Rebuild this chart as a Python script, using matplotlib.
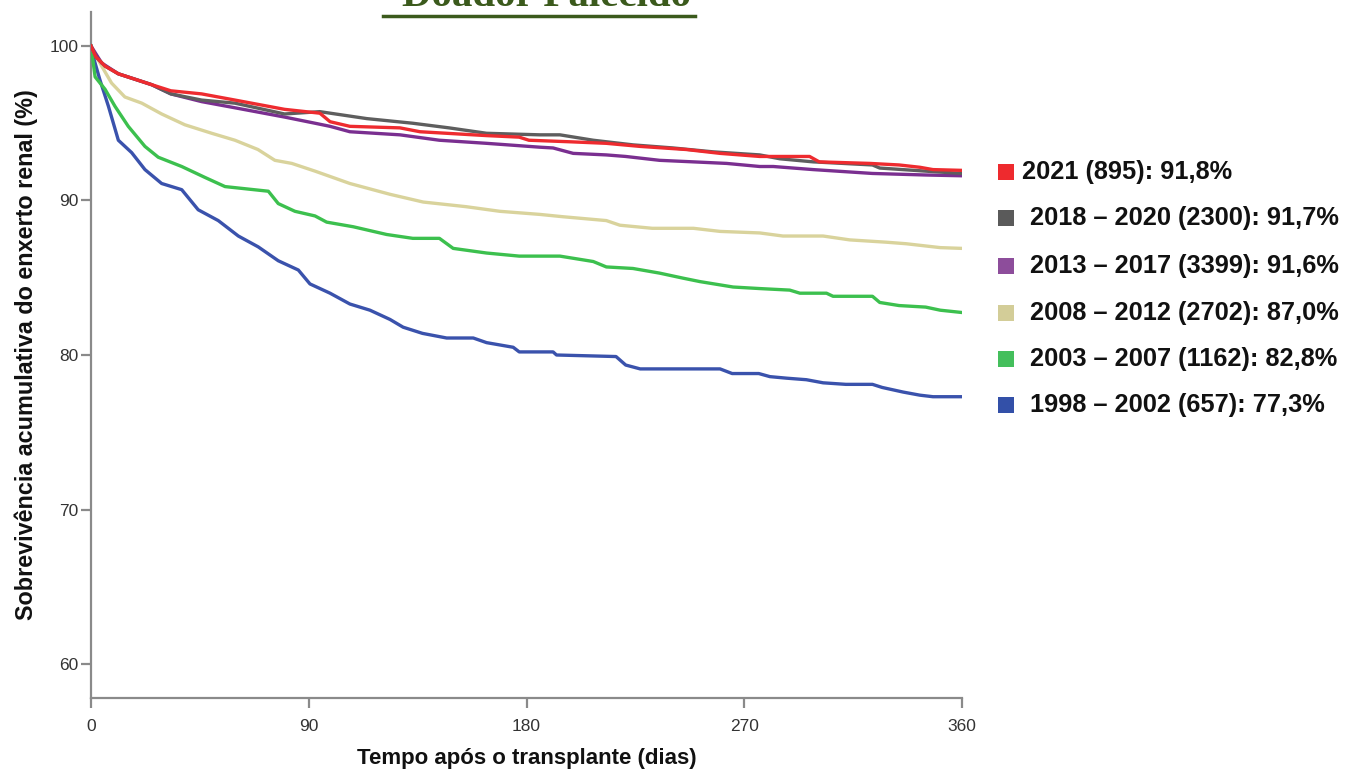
import matplotlib
matplotlib.use("Agg")
import matplotlib.pyplot as plt
from matplotlib.lines import Line2D

# ---------------- data ----------------
labels = ["2021 (895): 91,8%", "2018 – 2020 (2300): 91,7%", "2013 – 2017 (3399): 91,6%",
          "2008 – 2012 (2702): 87,0%", "2003 – 2007 (1162): 82,8%", "1998 – 2002 (657): 77,3%"]
line_colors = ["#ee2b2f", "#5e5e5e", "#7a2f90", "#d9d39c", "#3cc04e", "#3a52ac"]
legend_colors = ["#ee2a2e", "#5a5a5a", "#8d4d9b", "#d3cd98", "#44bf5c", "#3350a8"]

t_2021 = [0, 2, 5.8, 11.3, 25, 33, 45.7, 59.5, 80, 94.6, 98.8, 107, 127.7, 136, 163.5, 177, 181,
          198, 213, 227, 246, 260, 276.4, 297, 301, 322, 334, 342.6, 348, 360]
s_2021 = [100, 99.3, 98.7, 98.2, 97.5, 97.1, 96.9, 96.5, 95.9, 95.65, 95.1, 94.8, 94.7, 94.45, 94.2,
          94.1, 93.9, 93.8, 93.7, 93.5, 93.3, 93.05, 92.85, 92.85, 92.5, 92.4, 92.3, 92.15, 92.0, 91.95]

t_2018 = [0, 2, 5.8, 11.3, 25, 33, 45.7, 59.5, 80, 94.6, 114, 133, 148, 163.5, 185.5, 193.8, 207.6,
          224, 240.6, 257, 276.4, 284.7, 298.5, 323, 326, 345, 360]
s_2018 = [100, 99.3, 98.7, 98.2, 97.5, 96.9, 96.5, 96.3, 95.6, 95.75, 95.3, 95.0, 94.7, 94.35, 94.25,
          94.25, 93.9, 93.6, 93.4, 93.15, 92.95, 92.7, 92.5, 92.3, 92.1, 91.9, 91.75]

t_2013 = [0, 2, 4.4, 11.3, 25, 33, 45.7, 59.5, 80, 92.6, 98.8, 107, 127.7, 144, 163.5, 185.5, 191,
          199.3, 213, 221, 235, 249, 262.7, 276.4, 282, 298.5, 323, 345, 360]
s_2013 = [100, 99.5, 98.9, 98.2, 97.5, 96.9, 96.4, 96.0, 95.4, 95.0, 94.8, 94.45, 94.25, 93.9, 93.7,
          93.45, 93.4, 93.05, 92.95, 92.85, 92.6, 92.5, 92.4, 92.2, 92.2, 92.0, 91.75, 91.65, 91.6]

t_2008 = [0, 1.5, 4.4, 8.5, 14, 21, 29.2, 38.8, 49.9, 59.5, 69, 76, 83, 92.6, 107, 123.6, 137.3, 155,
          169, 185.5, 195, 213, 218.6, 232, 249, 260, 276.4, 286, 302.6, 313.6, 328.8, 337, 351, 360]
s_2008 = [100, 99.5, 98.7, 97.6, 96.7, 96.3, 95.6, 94.9, 94.35, 93.9, 93.3, 92.6, 92.4, 91.9, 91.1,
          90.4, 89.9, 89.6, 89.3, 89.1, 88.95, 88.7, 88.4, 88.2, 88.2, 88.0, 87.9, 87.7, 87.7, 87.45,
          87.3, 87.2, 86.95, 86.9]

t_2003 = [0, 1.7, 5.8, 9.9, 15.4, 22.3, 27.8, 37.5, 47, 55.4, 73.3, 77.4, 84.3, 92.6, 97.4, 108.4,
          122.2, 133, 144, 149.7, 163.5, 177, 193.8, 207.6, 213, 224, 235, 244.8, 251.7, 265.4, 276.4,
          288.8, 293, 304, 306.7, 323, 326, 334, 345, 351, 360]
s_2003 = [100, 98.0, 97.2, 96.1, 94.8, 93.5, 92.8, 92.2, 91.5, 90.9, 90.6, 89.8, 89.3, 89.0, 88.6,
          88.3, 87.8, 87.55, 87.55, 86.9, 86.6, 86.4, 86.4, 86.05, 85.7, 85.6, 85.3, 84.97, 84.75,
          84.4, 84.3, 84.2, 84.0, 84.0, 83.8, 83.8, 83.4, 83.2, 83.1, 82.9, 82.75]

t_1998 = [0, 1.5, 3.7, 7.2, 11.3, 16.8, 22.3, 29.2, 37.5, 44.3, 52.6, 60.9, 69.1, 77.4, 85.7, 90.5,
          98.8, 107, 115.3, 123.6, 129, 137, 147, 158, 163.5, 174.5, 177, 191, 192.4, 217, 221, 227,
          260, 265, 276, 280.6, 287.5, 295.7, 302.6, 312, 323, 327, 335.7, 342.6, 348, 360]
s_1998 = [100, 99.0, 97.8, 96.1, 93.9, 93.1, 92.0, 91.1, 90.7, 89.4, 88.7, 87.7, 87.0, 86.1, 85.5,
          84.6, 84.0, 83.3, 82.9, 82.3, 81.8, 81.4, 81.1, 81.1, 80.8, 80.5, 80.2, 80.2, 80.0, 79.9,
          79.35, 79.1, 79.1, 78.8, 78.8, 78.6, 78.5, 78.4, 78.2, 78.1, 78.1, 77.9, 77.6, 77.4, 77.3,
          77.3]

times = [t_2021, t_2018, t_2013, t_2008, t_2003, t_1998]
survs = [s_2021, s_2018, s_2013, s_2008, s_2003, s_1998]

x_ticks = [0, 90, 180, 270, 360]
y_ticks = [60, 70, 80, 90, 100]

# ---------------- figure ----------------
W, H = 1345, 771
fig = plt.figure(figsize=(W / 100, H / 100), dpi=100)
ax = fig.add_axes([91 / W, 1 - 698 / H, (962 - 91) / W, (698 - 12) / H])

# draw oldest first so newest is on top
order = [3, 4, 5, 2, 1, 0]
for i in order:
    ax.plot(times[i], survs[i], color=line_colors[i], lw=2.4,
            solid_joinstyle="round", zorder=3 + (5 - i))

ax.set_xlim(0, 360)
ax.set_ylim(57.8, 102.2)
ax.set_xticks(x_ticks)
ax.set_yticks(y_ticks)

sans = ["Liberation Sans", "DejaVu Sans"]
for lab in ax.get_xticklabels() + ax.get_yticklabels():
    lab.set_family(sans)
    lab.set_fontsize(12.5)
    lab.set_color("#333333")

for s in ["top", "right"]:
    ax.spines[s].set_visible(False)
for s in ["left", "bottom"]:
    ax.spines[s].set_color("#8a8a8a")
    ax.spines[s].set_linewidth(1.6)
ax.tick_params(axis="both", direction="out", length=7, width=1.6, color="#8a8a8a")
ax.tick_params(axis="x", pad=8)
ax.tick_params(axis="y", pad=2)

ax.set_ylabel("Sobrevivência acumulativa do enxerto renal (%)", fontsize=16.8,
              fontweight="bold", family=sans, color="#111111", labelpad=8)
ax.set_xlabel("Tempo após o transplante (dias)", fontsize=16, fontweight="bold",
              family=sans, color="#111111", labelpad=10)

# legend as text entries with square markers
leg_y = [172, 218, 266, 313, 359, 405]
for k, (lab, c, yy) in enumerate(zip(labels, legend_colors, leg_y)):
    fig.patches.append(plt.Rectangle((998 / W, 1 - (yy + 8) / H), 16 / W, 16 / H,
                                     transform=fig.transFigure, facecolor=c, edgecolor="none"))
    tx = 1022 if k == 0 else 1030
    fig.text(tx / W, 1 - yy / H, lab, fontsize=18.3, fontweight="bold",
             family=sans, va="center", ha="left", color="#111111")

# cropped, underlined title (the reference shows only its lower part)
fig.text(546 / W, 1 - 6 / H, "Doador Falecido", fontsize=29.5, fontweight="bold",
         family=["Liberation Serif", "DejaVu Serif"], color="#3b5a1c", ha="center", va="baseline")
fig.add_artist(Line2D([383 / W, 695 / W], [1 - 15.5 / H, 1 - 15.5 / H], transform=fig.transFigure,
                      color="#3b5a1c", lw=2.5))

fig.savefig("out.png", dpi=100, facecolor="white")
